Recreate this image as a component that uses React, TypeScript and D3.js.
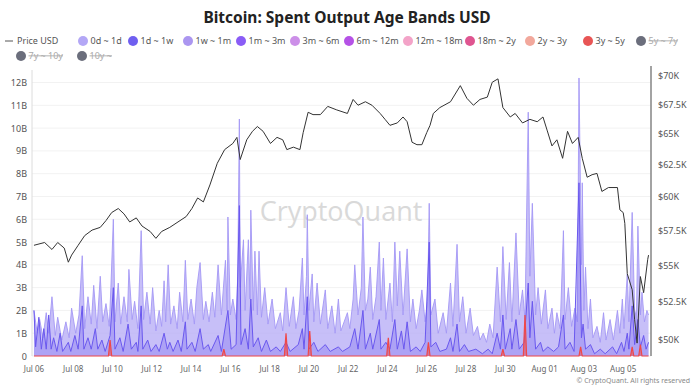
import React from 'react';
import * as d3 from 'd3';

// Time origin: 2024-07-06 00:00 UTC; all series use hour offsets from it
const START = Date.UTC(2024, 6, 6);
const HOUR = 3600e3;

const title = 'Bitcoin: Spent Output Age Bands USD';

// Price USD (thousands)  [hour, price]
const priceUSD: [number, number][] = [
  [0,56.4],[13,56.6],[22,56.1],[29,56.6],[37,56.2],[42,55.2],[46,55.7],[54,56.4],[62,57.1],[71,57.5],
  [81,57.7],[88,58.2],[95,58.8],[103,59.1],[110,58.7],[117,58.1],[125,58.4],[132,57.8],[142,57.4],[149,56.9],
  [156,57.4],[166,57.7],[176,58.1],[186,58.5],[193,59.1],[200,59.9],[207,59.6],[215,60.9],[224,62.6],[233,63.7],
  [243,64.2],[248,64.7],[252,62.9],[260,64.5],[267,65.2],[273,65.6],[280,65.2],[289,64.2],[297,64.7],[304,64.5],
  [309,63.7],[317,63.9],[325,63.7],[329,65.1],[335,66.8],[341,66.6],[350,66.6],[359,67.3],[370,67.0],[383,66.7],
  [390,67.9],[396,67.4],[405,67.7],[413,67.4],[423,66.7],[429,66.2],[435,65.7],[444,65.9],[451,66.4],[456,66.0],
  [462,64.3],[468,64.1],[474,64.1],[480,65.1],[484,65.7],[488,66.7],[496,67.2],[509,67.7],[521,69.1],[529,68.0],
  [537,67.4],[545,67.9],[554,68.1],[560,69.4],[567,69.7],[573,67.2],[582,66.4],[588,66.7],[597,65.9],[606,66.2],
  [615,66.0],[622,66.4],[627,65.3],[633,64.0],[639,64.5],[646,63.0],[652,65.2],[658,64.2],[665,64.7],[670,63.0],
  [676,61.5],[682,61.7],[688,61.8],[694,60.4],[702,60.7],[713,60.7],[716,59.0],[720,58.8],[722,58.0],[725,54.4],
  [731,53.3],[734,51.3],[737,49.8],[741,54.2],[745,53.1],[750,55.4],[751,55.7],
];

// 0d ~ 1d band (billions USD) [hour, value]
const band0d1d: [number, number][] = [
  [0,2.0],[4,1.0],[7,1.6],[11,0.8],[15,1.9],[18,1.0],[22,2.6],[26,0.9],[29,1.7],[34,0.7],[39,1.5],[43,0.8],
  [46,2.1],[51,1.0],[55,1.8],[59,4.4],[62,1.2],[66,2.6],[70,1.4],[73,3.1],[77,1.2],[81,3.5],[84,1.5],[88,2.3],
  [92,1.3],[94,3.0],[97,6.0],[99,1.5],[103,3.2],[106,1.4],[110,2.6],[114,1.5],[116,3.8],[120,1.6],[123,2.4],
  [127,1.2],[131,5.5],[134,1.6],[138,2.8],[142,1.4],[145,3.0],[149,1.1],[153,2.0],[156,1.3],[159,3.3],[161,1.5],
  [164,4.0],[167,1.4],[171,2.2],[175,1.2],[178,2.8],[182,1.5],[185,4.2],[188,1.6],[192,2.5],[196,1.4],[199,3.0],
  [203,4.1],[207,1.6],[210,2.4],[214,1.5],[218,2.8],[221,1.7],[225,4.0],[229,1.8],[234,4.2],[236,2.0],[237,6.1],
  [240,1.8],[243,2.5],[247,1.6],[249,3.5],[251,10.4],[252,3.0],[256,5.1],[258,2.0],[262,5.1],[264,2.5],[265,6.4],
  [268,2.0],[270,4.6],[273,1.8],[275,4.6],[278,1.7],[282,3.0],[286,1.4],[291,2.5],[295,1.2],[301,1.9],[304,1.1],
  [308,3.0],[312,1.3],[317,2.6],[320,1.2],[324,2.0],[328,4.3],[330,1.8],[333,3.5],[334,6.2],[336,2.0],[340,3.6],
  [342,1.5],[346,3.2],[350,1.4],[356,2.9],[359,1.2],[364,2.2],[368,1.0],[372,2.5],[375,1.1],[383,1.9],[386,1.2],
  [390,2.5],[392,4.0],[396,1.8],[400,3.0],[402,6.1],[405,2.0],[408,2.5],[411,3.9],[414,1.6],[418,2.6],[422,5.0],
  [424,2.0],[427,4.3],[430,1.6],[435,3.2],[438,1.5],[441,5.0],[444,2.2],[447,4.6],[451,1.8],[456,4.7],[460,1.5],
  [463,2.5],[467,1.2],[471,2.0],[474,2.9],[478,1.5],[481,2.4],[483,6.7],[485,1.8],[490,2.5],[494,1.0],[500,1.9],
  [504,1.0],[509,3.2],[512,1.3],[517,4.9],[520,1.5],[524,2.6],[528,1.0],[533,2.1],[537,0.9],[542,1.3],[545,0.7],
  [549,1.0],[553,0.6],[557,1.4],[561,0.8],[566,3.9],[570,1.5],[573,4.8],[577,1.6],[581,4.1],[584,1.5],[589,5.4],
  [593,1.8],[597,2.9],[600,1.6],[604,10.7],[606,3.5],[609,6.7],[613,1.8],[616,3.0],[620,1.4],[625,2.9],[628,1.2],
  [633,2.1],[636,1.0],[639,1.9],[643,1.2],[647,5.5],[649,1.6],[653,3.0],[657,1.3],[661,2.1],[664,1.5],[666,12.2],
  [669,4.0],[670,7.6],[672,2.0],[674,3.9],[677,1.2],[680,2.5],[683,0.8],[688,1.3],[692,0.6],[696,1.9],[699,0.7],
  [704,1.6],[708,0.7],[713,2.0],[716,1.0],[719,2.5],[721,1.2],[725,3.6],[727,1.5],[731,6.3],[734,2.0],[735,1.9],
  [736,1.2],[738,5.7],[741,1.8],[743,2.8],[746,1.5],[749,2.0],[751,1.8],
];

// 1d ~ 1w band (billions USD)
const band1d1w: [number, number][] = [
  [0,2.0],[2,0.4],[6,1.7],[9,0.3],[12,1.2],[15,0.3],[18,1.8],[21,0.3],[24,0.8],[28,0.2],[32,1.0],[35,0.2],
  [42,0.6],[45,0.2],[50,0.9],[54,0.3],[59,2.2],[61,0.3],[66,0.8],[70,0.3],[75,1.2],[78,0.3],[83,0.7],[87,0.2],
  [93,0.9],[97,3.0],[99,0.3],[105,0.8],[109,0.2],[115,1.4],[119,0.3],[125,0.6],[127,0.2],[131,2.2],[133,0.3],
  [139,0.7],[143,0.2],[149,0.5],[153,0.2],[159,1.0],[163,0.3],[166,0.6],[170,0.2],[176,0.7],[180,0.2],[185,1.5],
  [187,0.3],[193,0.6],[197,0.2],[203,1.2],[207,0.3],[213,0.5],[216,0.2],[225,0.9],[229,0.2],[237,2.0],[241,0.3],
  [247,0.5],[251,6.6],[253,0.5],[258,1.2],[262,0.3],[265,2.5],[268,0.4],[274,0.8],[278,0.2],[284,0.7],[289,0.2],
  [296,0.4],[301,0.2],[308,0.6],[313,0.2],[323,0.5],[328,1.2],[330,0.3],[334,2.6],[336,0.3],[342,0.6],[347,0.2],
  [356,0.5],[362,0.2],[372,0.4],[377,0.2],[386,0.4],[392,1.2],[396,0.3],[402,2.0],[405,0.3],[411,1.0],[414,0.3],
  [422,1.6],[424,0.3],[430,0.6],[435,0.3],[441,1.6],[444,0.3],[449,1.1],[452,0.3],[456,1.5],[460,0.2],[467,0.4],
  [472,0.2],[478,0.6],[483,5.0],[485,0.4],[491,0.6],[496,0.2],[504,0.3],[509,0.8],[512,0.2],[517,1.4],[520,0.2],
  [526,0.5],[531,0.2],[540,0.3],[548,0.1],[555,0.3],[560,0.1],[566,1.0],[570,0.3],[573,1.8],[576,0.3],[582,1.2],
  [584,0.3],[589,1.6],[593,0.3],[599,0.6],[604,3.2],[606,0.8],[609,2.4],[613,0.3],[619,0.6],[622,0.2],[628,0.4],
  [635,0.2],[641,0.4],[647,1.8],[649,0.3],[655,0.6],[660,0.2],[666,7.6],[669,0.8],[671,1.4],[674,0.3],[680,0.5],
  [685,0.1],[692,0.3],[698,0.1],[707,0.4],[712,0.1],[718,0.6],[721,0.2],[725,1.0],[727,0.3],[731,2.2],[734,0.5],
  [738,1.6],[741,0.4],[745,0.9],[748,0.3],[751,0.6],
];

// 3y ~ 5y band (billions USD)
const band3y5y: [number, number][] = [
  [0,0],[91,0],[93,0.7],[95,0],[230,0],[232,0.3],[234,0],[306,0],[308,1.0],[310,0],[335,0],[337,1.1],[339,0],
  [431,0],[433,0.8],[435,0],[480,0],[482,0.6],[484,0],[571,0],[573,0.3],[575,0],[598,0],[600,1.8],[602,0],
  [666,0],[668,0.4],[670,0],[729,0],[731,0.4],[733,0],[739,0],[741,0.5],[743,0],[751,0],
];

const leftTicks = [0, 1, 2, 3, 4, 5, 6, 7, 8, 9, 10, 11, 12];
const rightTicks = [50000, 52500, 55000, 57500, 60000, 62500, 65000, 67500, 70000];
const xTickDays = ['2024-07-06','2024-07-08','2024-07-10','2024-07-12','2024-07-14','2024-07-16','2024-07-18',
  '2024-07-20','2024-07-22','2024-07-24','2024-07-26','2024-07-28','2024-07-30','2024-08-01','2024-08-03','2024-08-05'];

const legendLabels = ['0d ~ 1d','1d ~ 1w','1w ~ 1m','1m ~ 3m','3m ~ 6m','6m ~ 12m','12m ~ 18m','18m ~ 2y','2y ~ 3y','3y ~ 5y','5y ~ 7y','7y ~ 10y','10y ~'];
const legendColors = ['#b3a7f6','#6f5ff0','#ab96f0','#8a5cf6','#cc8fe8','#b552e6','#f3a3c8','#df5590','#f2a89c','#e85555','#6b6e7c','#6b6e7c','#6b6e7c'];
const legendDisabled = [false,false,false,false,false,false,false,false,false,false,true,true,true];

const FONT = "'Noto Sans', 'Open Sans', sans-serif";

export default function App() {
  const W = 700, H = 388;
  const top = 70, bottom = 356, left = 32, right = 651;
  const t = (h: number) => new Date(START + h * HOUR);
  const x = d3.scaleUtc().domain([t(-2.4), t(754)]).range([left, right]);
  const yL = d3.scaleLinear().domain([0, 12.55]).range([bottom, top]);
  const yR = d3.scaleLog().domain([48990, 70490]).range([bottom, top]);

  const area = d3.area<[number, number]>()
    .x(d => x(t(d[0])))
    .y0(yL(0))
    .y1(d => yL(d[1]));
  const topLine = d3.line<[number, number]>()
    .x(d => x(t(d[0])))
    .y(d => yL(d[1]));
  const priceLine = d3.line<[number, number]>()
    .x(d => x(t(d[0])))
    .y(d => yR(d[1] * 1000));

  const fmtDate = d3.utcFormat('%b %d');
  const fmtR = (v: number) => `$${d3.format('~')(v / 1000)}K`;

  // legend layout (circle centres)
  const legendPos: [number, number][] = [
    [83, 41],[133, 41],[188, 41],[241, 41],[295, 41],[349, 41],[408, 41],[470, 41],[530, 41],[588, 41],[641, 41],
    [21, 56],[82, 56],
  ];

  return (
    <svg width={W} height={H} style={{ position: 'absolute', left: 0, top: 0, background: '#fff' }} fontFamily={FONT}>
      <text x={347} y={23} textAnchor="middle" fontSize={15.5} fontWeight={700} fill="#222">{title}</text>

      {/* legend */}
      <line x1={5} x2={13} y1={41} y2={41} stroke="#555" strokeWidth={1} />
      <text x={17} y={44} fontSize={9} fill="#555">Price USD</text>
      {legendLabels.map((lab, i) => {
        const [cx, cy] = legendPos[i];
        return (
          <g key={lab}>
            <circle cx={cx} cy={cy} r={5} fill={legendColors[i]} />
            <text x={cx + 7.5} y={cy + 3.2} fontSize={9} fill={legendDisabled[i] ? '#aaa' : '#555'}
              textDecoration={legendDisabled[i] ? 'line-through' : undefined}>{lab}</text>
          </g>
        );
      })}

      {/* grid */}
      {leftTicks.map(v => (
        <line key={v} x1={left} x2={right} y1={yL(v)} y2={yL(v)} stroke="#f2f2f2" strokeWidth={1} />
      ))}

      {/* watermark */}
      <text x={341} y={221} textAnchor="middle" fontSize={27} fill="#d9d9d9" fontFamily="'Open Sans', sans-serif">CryptoQuant</text>

      {/* series */}
      <path d={area(band0d1d) || ''} fill="#b4a9f6" fillOpacity={0.75} />
      <path d={topLine(band0d1d) || ''} fill="none" stroke="#a497f5" strokeWidth={0.9} />
      <path d={area(band1d1w) || ''} fill="#6f5ff0" fillOpacity={0.3} />
      <path d={topLine(band1d1w) || ''} fill="none" stroke="#6a58ef" strokeWidth={1} />
      <path d={area(band3y5y) || ''} fill="#f04848" fillOpacity={0.5} />
      <path d={topLine(band3y5y) || ''} fill="none" stroke="#f04848" strokeWidth={1.2} />
      <path d={priceLine(priceUSD) || ''} fill="none" stroke="#333" strokeWidth={1} />

      {/* axes */}
      <line x1={left} x2={left} y1={top} y2={bottom} stroke="#dcdcdc" strokeWidth={1} />
      <line x1={right} x2={right} y1={66} y2={bottom} stroke="#8c8c8c" strokeWidth={1.6} />
      {leftTicks.map(v => (
        <text key={v} x={27} y={yL(v) + 3.5} textAnchor="end" fontSize={9} fill="#555">{v === 0 ? '0' : `${v}B`}</text>
      ))}
      {rightTicks.map(v => (
        <text key={v} x={658} y={yR(v) + 3.5} fontSize={9} fill="#555">{fmtR(v)}</text>
      ))}
      {xTickDays.map(s => {
        const d = new Date(s + 'T00:00:00Z');
        return <text key={s} x={x(d)} y={372} textAnchor="middle" fontSize={8} fill="#666">{fmtDate(d)}</text>;
      })}

      <text x={690} y={383} textAnchor="end" fontSize={7} fill="#888">© CryptoQuant. All rights reserved</text>
    </svg>
  );
}
